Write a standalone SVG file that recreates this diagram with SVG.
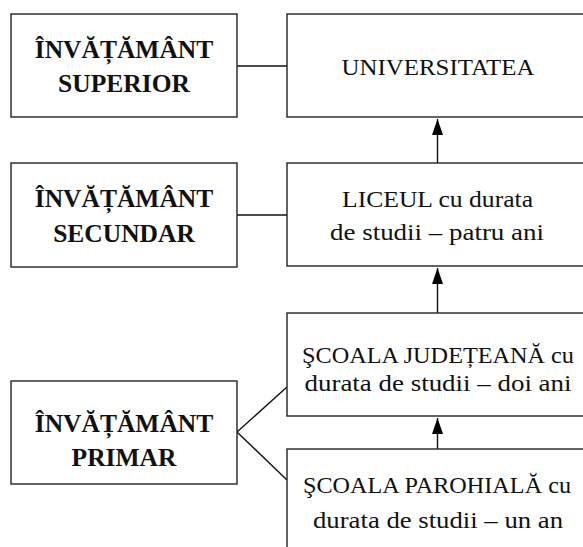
<svg xmlns="http://www.w3.org/2000/svg" width="583" height="547" viewBox="0 0 583 547">
<style>
.box{fill:#fff;stroke:#222;stroke-width:1.4}
.b{font-family:"Liberation Serif","DejaVu Serif",serif;font-weight:bold;font-size:25.5px;fill:#111;text-anchor:middle}
.r{font-family:"Liberation Serif","DejaVu Serif",serif;font-size:24px;fill:#111;text-anchor:middle}
.ln{stroke:#111;stroke-width:1.4;fill:none}
</style>
<defs>
<marker id="ah" markerUnits="userSpaceOnUse" markerWidth="16" markerHeight="11" refX="16" refY="5.5" orient="auto">
<path d="M0,0 L16,5.5 L0,11 z" fill="#000"/>
</marker>
</defs>
<rect width="583" height="547" fill="#fff"/>
<g id="connectors">
<line class="ln" x1="237" y1="66" x2="287" y2="66"/>
<line class="ln" x1="237" y1="215" x2="287" y2="215"/>
<line class="ln" x1="237" y1="432" x2="287" y2="387"/>
<line class="ln" x1="237" y1="432" x2="287" y2="480"/>
<line class="ln" x1="437.5" y1="163" x2="437.5" y2="119" marker-end="url(#ah)"/>
<line class="ln" x1="437.5" y1="313" x2="437.5" y2="268" marker-end="url(#ah)"/>
<line class="ln" x1="437.5" y1="449" x2="437.5" y2="418" marker-end="url(#ah)"/>
</g>
<g id="inv-superior">
<rect class="box" x="11" y="14" width="226" height="103"/>
<text class="b" x="124" y="58">ÎNVĂȚĂMÂNT</text>
<text class="b" x="124" y="92">SUPERIOR</text>
</g>
<g id="universitatea">
<rect class="box" x="287" y="14" width="303" height="103"/>
<text class="r" x="438" y="75" textLength="193" lengthAdjust="spacingAndGlyphs">UNIVERSITATEA</text>
</g>
<g id="inv-secundar">
<rect class="box" x="11" y="163" width="226" height="104"/>
<text class="b" x="124" y="207">ÎNVĂȚĂMÂNT</text>
<text class="b" x="124" y="242">SECUNDAR</text>
</g>
<g id="liceul">
<rect class="box" x="287" y="163" width="303" height="103"/>
<text class="r" x="437.5" y="207" textLength="191" lengthAdjust="spacingAndGlyphs">LICEUL cu durata</text>
<text class="r" x="437" y="240" textLength="214" lengthAdjust="spacingAndGlyphs">de studii – patru ani</text>
</g>
<g id="inv-primar">
<rect class="box" x="11" y="381" width="226" height="103"/>
<text class="b" x="124" y="432">ÎNVĂȚĂMÂNT</text>
<text class="b" x="124" y="466">PRIMAR</text>
</g>
<g id="scoala-judeteana">
<rect class="box" x="287" y="313" width="303" height="103"/>
<text class="r" x="438" y="363" textLength="272" lengthAdjust="spacingAndGlyphs">ŞCOALA JUDEȚEANĂ cu</text>
<text class="r" x="438" y="391" textLength="267" lengthAdjust="spacingAndGlyphs">durata de studii – doi ani</text>
</g>
<g id="scoala-parohiala">
<rect class="box" x="287" y="449" width="303" height="120"/>
<text class="r" x="437" y="493" textLength="268" lengthAdjust="spacingAndGlyphs">ŞCOALA PAROHIALĂ cu</text>
<text class="r" x="438" y="528" textLength="250" lengthAdjust="spacingAndGlyphs">durata de studii – un an</text>
</g>
</svg>
